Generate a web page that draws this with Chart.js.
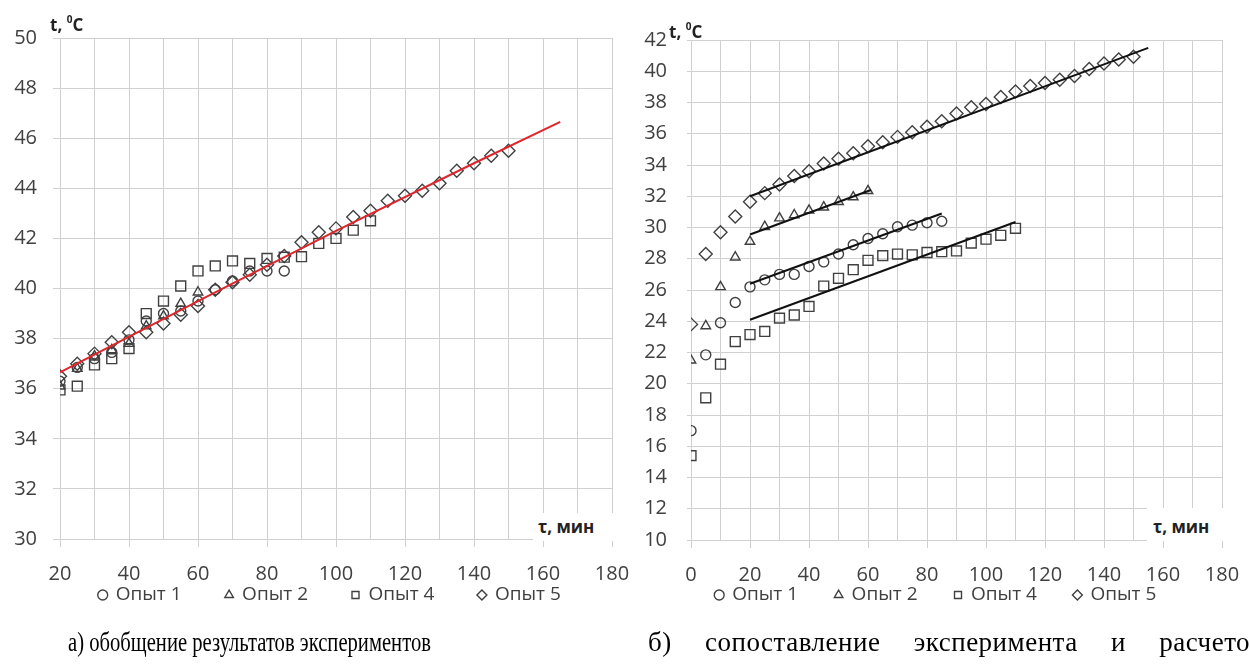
<!DOCTYPE html>
<html><head><meta charset="utf-8">
<script src="https://cdn.jsdelivr.net/npm/chart.js@4.4.0/dist/chart.umd.min.js"></script>
<style>
html,body{margin:0;padding:0;background:#fff;width:1250px;height:669px;overflow:hidden}
body{position:relative}
.wrap{position:absolute;top:0}
.ttl{position:absolute;font-family:'Open Sans',sans-serif;font-weight:bold;color:#222;font-size:17px;white-space:nowrap;line-height:1}
.ttl sup{font-size:10px;vertical-align:top;position:relative;top:-2px}
.box{position:absolute;background:#fff}
.cap{position:absolute;font-family:'Liberation Serif','Times New Roman',serif;font-size:27px;line-height:1;white-space:nowrap;transform-origin:0 0;color:#000}
</style></head>
<body>
<div class="wrap" style="left:0;width:645px;height:669px"><canvas id="c1" width="645" height="669"></canvas></div>
<div class="wrap" style="left:625px;width:630px;height:669px"><canvas id="c2" width="630" height="669"></canvas></div>

<div class="ttl" style="left:50px;top:16px">t, <sup>0</sup>C</div>
<div class="ttl" style="left:669px;top:23px">t, <sup>0</sup>C</div>
<div class="box" style="left:533px;top:513px;width:81px;height:28px"></div>
<div class="ttl" style="left:538px;top:518px">τ, мин</div>
<div class="box" style="left:1147px;top:508px;width:78px;height:33px"></div>
<div class="ttl" style="left:1153px;top:518px">τ, мин</div>

<div class="cap" style="left:68px;top:629px;transform:scaleX(0.764)">а) обобщение результатов экспериментов</div>
<div class="cap" style="left:648px;top:629px;letter-spacing:0.5px;word-spacing:26px">б) сопоставление эксперимента и расчетов</div>

<script>
// ---------- Data: left chart (a) ----------
const L_T_O1 = [20,25,30,35,40,45,50,55,60,65,70,75,80,85];
const L_O1   = [36.3,36.85,37.2,37.45,37.95,38.7,39.0,39.1,39.5,39.95,40.3,40.7,40.7,40.7];
const L_T_O2 = [20,25,30,35,40,45,50,55,60];
const L_O2   = [36.1,36.8,37.3,37.55,37.8,38.5,38.9,39.4,39.85];
const L_T_O4 = [20,25,30,35,40,45,50,55,60,65,70,75,80,85,90,95,100,105,110];
const L_O4   = [35.95,36.1,36.95,37.2,37.6,39.0,39.5,40.1,40.7,40.9,41.1,41.0,41.2,41.25,41.27,41.8,42.0,42.33,42.7];
const L_T_O5 = [20,25,30,35,40,45,50,55,60,65,70,75,80,85,90,95,100,105,110,115,120,125,130,135,140,145,150];
const L_O5   = [36.5,37.0,37.4,37.85,38.25,38.25,38.6,38.95,39.3,39.95,40.25,40.55,40.95,41.3,41.85,42.25,42.4,42.85,43.1,43.5,43.7,43.9,44.2,44.7,45.0,45.3,45.5];
const L_FIT_T = [20,60,100,140,165];
const L_FIT   = [36.65,39.5,42.3,45.0,46.65];

// ---------- Data: right chart (b) ----------
const R_T_O1 = [0,5,10,15,20,25,30,35,40,45,50,55,60,65,70,75,80,85];
const R_O1   = [17.0,21.85,23.9,25.2,26.2,26.65,27.0,27.0,27.5,27.8,28.3,28.9,29.3,29.6,30.05,30.15,30.3,30.4];
const R_T_O2 = [0,5,10,15,20,25,30,35,40,45,50,55,60];
const R_O2   = [21.5,23.7,26.2,28.1,29.1,30.05,30.6,30.8,31.1,31.3,31.65,31.95,32.35];
const R_T_O4 = [0,5,10,15,20,25,30,35,40,45,50,55,60,65,70,75,80,85,90,95,100,105,110];
const R_O4   = [15.4,19.1,21.25,22.7,23.15,23.35,24.2,24.4,24.95,26.25,26.75,27.3,27.9,28.2,28.3,28.25,28.4,28.45,28.5,29.0,29.25,29.5,29.95];
const R_T_O5 = [0,5,10,15,20,25,30,35,40,45,50,55,60,65,70,75,80,85,90,95,100,105,110,115,120,125,130,135,140,145,150];
const R_O5   = [23.8,28.3,29.7,30.7,31.65,32.2,32.75,33.3,33.6,34.1,34.4,34.75,35.2,35.45,35.8,36.1,36.45,36.8,37.3,37.7,37.9,38.35,38.7,39.05,39.25,39.45,39.7,40.15,40.5,40.75,40.93];
const R_C1_T = [20,85];   const R_C1 = [26.4,30.9];
const R_C2_T = [20,61];   const R_C2 = [29.55,32.4];
const R_C4_T = [20,110];  const R_C4 = [24.1,30.35];
const R_C5_T = [20,155];  const R_C5 = [32.0,41.5];

const SERIES_NAMES = ['Опыт 1','Опыт 2','Опыт 4','Опыт 5'];
const X_LEFT_TICKS = {min:20,max:180,step:10,labelStep:20};
const Y_LEFT_TICKS = {min:30,max:50,step:2};
const X_RIGHT_TICKS = {min:0,max:180,step:10,labelStep:20};
const Y_RIGHT_TICKS = {min:10,max:42,step:2};

// ---------- helpers ----------
const pts = (t, v) => t.map((x, i) => ({x, y: v[i]}));
const INK = '#404040', GRID = '#d0d0d0';
const FONT = "'Open Sans', sans-serif";
const LEG_FONT = 19;
const styles = [
  {pointStyle:'circle', pointRadius:5},
  {pointStyle:'triangle', pointRadius:5.5},
  {pointStyle:'rect', pointRadius:7},
  {pointStyle:'rectRot', pointRadius:6.5}
];
function markerSet(name, i, data) {
  return Object.assign({label:name, data, showLine:false, borderColor:INK, backgroundColor:'rgba(0,0,0,0)',
    borderWidth:1.4, pointBorderColor:INK, pointBackgroundColor:'rgba(0,0,0,0)', pointBorderWidth:1.4, order:2}, styles[i]);
}
function lineSet(data, color) {
  return {label:'', data, showLine:true, borderColor:color, borderWidth:2, pointRadius:0, fill:false, order:1, tension:0};
}

function build(id, o) {
  const H = 669;
  const legendPlace = {
    id:'legendPlace',
    afterLayout(chart) {
      const lg = chart.legend; if (!lg) return;
      const p = lg.options.labels.padding;
      const dy = (o.legendCY - p - LEG_FONT / 2) - lg.top;
      lg.top += dy; lg.bottom += dy;
      const dx = o.legendCX - (lg.left + lg.right) / 2;
      lg.left += dx; lg.right += dx;
    }
  };
  new Chart(document.getElementById(id), {
    type:'scatter',
    data:{datasets:o.datasets},
    plugins:[legendPlace],
    options:{
      responsive:false, animation:false, devicePixelRatio:1,
      layout:{padding:o.pad},
      plugins:{
        tooltip:{enabled:false},
        legend:{position:'bottom', align:'center',
          labels:{usePointStyle:true, boxWidth:7, boxHeight:7, padding:o.legendPad, color:INK,
            font:{family:FONT, size:LEG_FONT},
            filter:(item) => item.text !== ''}}
      },
      scales:{
        x:{type:'linear', min:o.xt.min, max:o.xt.max,
          afterFit:(s) => { s.height = H - o.pad.bottom - s.chart.legend.height - o.bottom; },
          ticks:{stepSize:o.xt.step, color:INK, font:{family:FONT,size:20}, padding:15, maxRotation:0, autoSkip:false,
            callback:(v) => (v % o.xt.labelStep === 0 ? String(v) : '')},
          grid:{color:GRID, lineWidth:1, tickLength:8,
            tickColor:(c) => (c.tick && c.tick.value % o.xt.labelStep === 0 ? GRID : 'rgba(0,0,0,0)')},
          border:{color:GRID}
        },
        y:{type:'linear', min:o.yt.min, max:o.yt.max,
          afterFit:(s) => { s.width = o.yWidth; },
          ticks:{stepSize:o.yt.step, color:INK, font:{family:FONT,size:20}, padding:o.yPad, autoSkip:false},
          grid:{color:GRID, lineWidth:1, tickLength:o.yTick, tickColor:GRID},
          border:{color:GRID}
        }
      }
    }
  });
}

build('c1', {
  pad:{left:0, right:33, top:38, bottom:0}, bottom:539, yWidth:60, yPad:16, yTick:7, legendPad:44,
  legendCX:330, legendCY:595,
  xt:X_LEFT_TICKS, yt:Y_LEFT_TICKS,
  datasets:[
    markerSet(SERIES_NAMES[0],0,pts(L_T_O1,L_O1)),
    markerSet(SERIES_NAMES[1],1,pts(L_T_O2,L_O2)),
    markerSet(SERIES_NAMES[2],2,pts(L_T_O4,L_O4)),
    markerSet(SERIES_NAMES[3],3,pts(L_T_O5,L_O5)),
    lineSet(pts(L_FIT_T,L_FIT),'#e0262b')
  ]
});

build('c2', {
  pad:{left:0, right:33, top:40, bottom:0}, bottom:540, yWidth:66, yPad:20, yTick:4, legendPad:37,
  legendCX:311, legendCY:595,
  xt:X_RIGHT_TICKS, yt:Y_RIGHT_TICKS,
  datasets:[
    markerSet(SERIES_NAMES[0],0,pts(R_T_O1,R_O1)),
    markerSet(SERIES_NAMES[1],1,pts(R_T_O2,R_O2)),
    markerSet(SERIES_NAMES[2],2,pts(R_T_O4,R_O4)),
    markerSet(SERIES_NAMES[3],3,pts(R_T_O5,R_O5)),
    lineSet(pts(R_C1_T,R_C1),'#111'),
    lineSet(pts(R_C2_T,R_C2),'#111'),
    lineSet(pts(R_C4_T,R_C4),'#111'),
    lineSet(pts(R_C5_T,R_C5),'#111')
  ]
});
</script>
</body></html>
